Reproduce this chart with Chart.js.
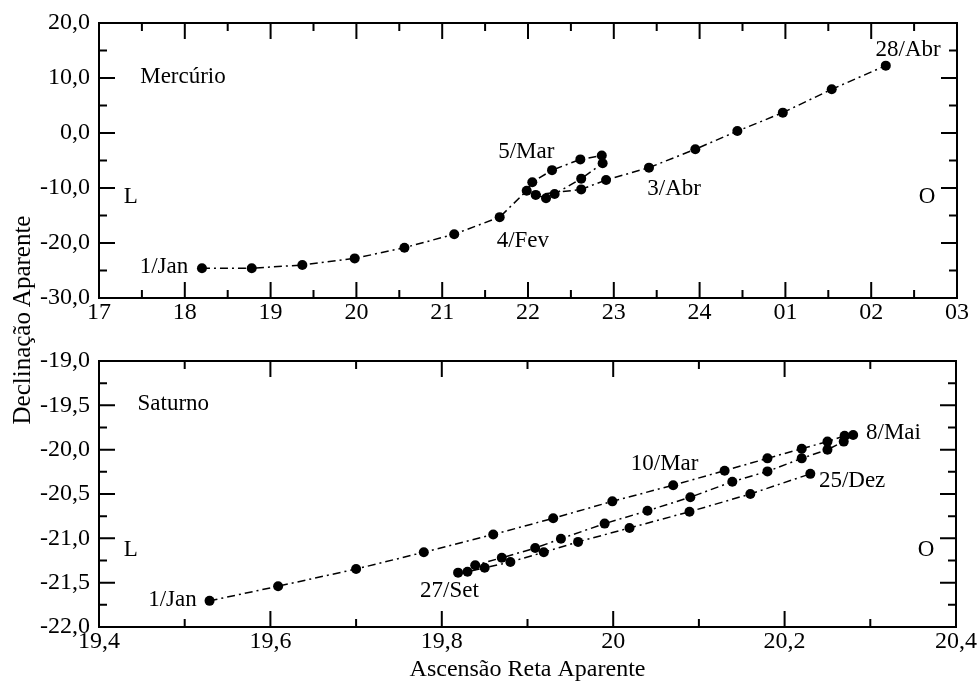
<!DOCTYPE html>
<html lang="pt">
<head>
<meta charset="utf-8">
<title>Mercúrio e Saturno</title>
<script src="https://cdn.jsdelivr.net/npm/chart.js@4.4.1/dist/chart.umd.min.js"></script>
<style>
  body { margin: 0; background: #fff; }
  #wrap { position: relative; width: 980px; height: 687px; background: #fff; font-family: "Liberation Serif", "Times New Roman", serif; }
  #top { position: absolute; left: 0; top: 0; }
  #bottom { position: absolute; left: 0; top: 340px; }
  #ytitle {
    position: absolute; left: -128px; top: 308px; width: 300px; height: 24px;
    line-height: 24px; text-align: center; font-size: 25px; color: #000;
    transform: rotate(-90deg); white-space: nowrap;
  }
</style>
</head>
<body>
<div id="wrap">
  <canvas id="top" width="980" height="340"></canvas>
  <canvas id="bottom" width="980" height="347"></canvas>
  <div id="ytitle">Declinação Aparente</div>
</div>
<script>
// Mercúrio: ascensão reta em horas (25 = 01h, 26 = 02h) e declinação em graus
const mercuryRA = [18.20, 18.78, 19.37, 19.98, 20.56, 21.14, 21.67,
  21.985, 22.05, 22.28, 22.61, 22.86, 22.87, 22.62, 22.31, 22.21, 22.09,
  22.62, 22.91, 23.41, 23.95, 24.44, 24.97, 25.54, 26.17];
const mercuryDec = [-24.6, -24.6, -24.0, -22.8, -20.85, -18.4, -15.3,
  -10.5, -8.95, -6.75, -4.8, -4.1, -5.5, -8.3, -11.1, -11.85, -11.25,
  -10.25, -8.55, -6.3, -2.95, 0.35, 3.7, 7.95, 12.25];
const mercuryXLabels = ['17', '18', '19', '20', '21', '22', '23', '24', '01', '02', '03'];

// Saturno: ascensão reta em horas e declinação em graus
const saturnRA = [19.529, 19.609, 19.700, 19.779, 19.860, 19.930, 19.999,
  20.070, 20.130, 20.180, 20.220, 20.250, 20.270, 20.280,
  20.269, 20.250, 20.220, 20.180, 20.139, 20.090, 20.040, 19.990, 19.939,
  19.909, 19.870, 19.839, 19.819,
  19.830, 19.850, 19.880, 19.919, 19.959, 20.019, 20.089, 20.160, 20.230];
const saturnDec = [-21.705, -21.540, -21.346, -21.157, -20.957, -20.774, -20.583,
  -20.401, -20.237, -20.098, -19.989, -19.909, -19.843, -19.835,
  -19.909, -20.000, -20.098, -20.245, -20.361, -20.536, -20.689, -20.834, -21.004,
  -21.110, -21.219, -21.303, -21.387,
  -21.376, -21.332, -21.267, -21.157, -21.040, -20.883, -20.700, -20.500, -20.273];
const saturnXLabels = ['19,4', '19,6', '19,8', '20', '20,2', '20,4'];

// textos dentro dos gráficos (coordenadas em unidades dos eixos)
const mercuryNotes = [
  { text: 'Mercúrio', x: 17.48, y: 10.2, align: 'left' },
  { text: 'L', x: 17.37, y: -11.6, align: 'center' },
  { text: 'O', x: 26.65, y: -11.6, align: 'center' },
  { text: '1/Jan', x: 18.04, y: -24.4, align: 'right' },
  { text: '4/Fev', x: 21.94, y: -19.6, align: 'center' },
  { text: '5/Mar', x: 21.98, y: -3.45, align: 'center' },
  { text: '3/Abr', x: 23.39, y: -10.2, align: 'left' },
  { text: '28/Abr', x: 26.43, y: 15.1, align: 'center' }
];
const saturnNotes = [
  { text: 'Saturno', x: 19.445, y: -19.49, align: 'left' },
  { text: 'L', x: 19.437, y: -21.135, align: 'center' },
  { text: 'O', x: 20.365, y: -21.135, align: 'center' },
  { text: '1/Jan', x: 19.514, y: -21.69, align: 'right' },
  { text: '27/Set', x: 19.809, y: -21.595, align: 'center' },
  { text: '10/Mar', x: 20.06, y: -20.16, align: 'center' },
  { text: '8/Mai', x: 20.295, y: -19.81, align: 'left' },
  { text: '25/Dez', x: 20.24, y: -20.35, align: 'left' }
];

const FONT = '"Liberation Serif", "Times New Roman", serif';

// moldura com marcas para dentro (principais e secundárias)
const frameTicks = {
  id: 'frameTicks',
  afterDraw(chart) {
    const { ctx, chartArea: a, scales: { x, y } } = chart;
    const major = 16, minor = 8;
    ctx.save();
    ctx.strokeStyle = '#000';
    ctx.lineWidth = 2;
    ctx.strokeRect(a.left, a.top, a.right - a.left, a.bottom - a.top);
    ctx.beginPath();
    const xv = x.ticks.map(t => t.value);
    xv.forEach((v, i) => {
      const p = x.getPixelForValue(v);
      ctx.moveTo(p, a.bottom); ctx.lineTo(p, a.bottom - major);
      ctx.moveTo(p, a.top); ctx.lineTo(p, a.top + major);
      if (i < xv.length - 1) {
        const m = x.getPixelForValue((v + xv[i + 1]) / 2);
        ctx.moveTo(m, a.bottom); ctx.lineTo(m, a.bottom - minor);
        ctx.moveTo(m, a.top); ctx.lineTo(m, a.top + minor);
      }
    });
    const yv = y.ticks.map(t => t.value);
    yv.forEach((v, i) => {
      const p = y.getPixelForValue(v);
      ctx.moveTo(a.left, p); ctx.lineTo(a.left + major, p);
      ctx.moveTo(a.right, p); ctx.lineTo(a.right - major, p);
      if (i < yv.length - 1) {
        const m = y.getPixelForValue((v + yv[i + 1]) / 2);
        ctx.moveTo(a.left, m); ctx.lineTo(a.left + minor, m);
        ctx.moveTo(a.right, m); ctx.lineTo(a.right - minor, m);
      }
    });
    ctx.stroke();
    ctx.restore();
  }
};

function notesPlugin(items) {
  return {
    id: 'notes',
    afterDraw(chart) {
      const { ctx, scales: { x, y } } = chart;
      ctx.save();
      ctx.fillStyle = '#000';
      ctx.font = '23px ' + FONT;
      ctx.textBaseline = 'middle';
      items.forEach(n => {
        ctx.textAlign = n.align;
        ctx.fillText(n.text, x.getPixelForValue(n.x), y.getPixelForValue(n.y));
      });
      ctx.restore();
    }
  };
}

const decFormat = v => v.toFixed(1).replace('.', ',');

function makeChart(id, cfg) {
  const points = cfg.ra.map((r, i) => ({ x: r, y: cfg.dec[i] }));
  const xScale = {
    type: 'linear', min: cfg.xMin, max: cfg.xMax,
    grid: { display: false, drawTicks: false },
    border: { display: false },
    ticks: {
      stepSize: cfg.xStep, autoSkip: false, maxRotation: 0, padding: 3, color: '#000',
      font: { family: FONT, size: 24, lineHeight: 1 },
      callback: (v, i) => cfg.xLabels[i]
    },
    afterFit(s) { s.height = cfg.xHeight; }
  };
  if (cfg.xTitle) {
    xScale.title = {
      display: true, text: cfg.xTitle, color: '#000',
      font: { family: FONT, size: 24 }, padding: { top: 0, bottom: 3 }
    };
  }
  return new Chart(document.getElementById(id), {
    type: 'scatter',
    data: {
      datasets: [{
        data: points,
        showLine: true,
        borderColor: '#000',
        borderWidth: 1.5,
        borderDash: [8, 4, 2, 4],
        tension: 0,
        pointRadius: 5,
        pointBorderWidth: 0,
        pointBackgroundColor: '#000',
        backgroundColor: '#000'
      }]
    },
    options: {
      responsive: false,
      animation: false,
      layout: { padding: { top: cfg.padTop, right: 23, bottom: 0, left: 0 } },
      plugins: { legend: { display: false }, tooltip: { enabled: false } },
      scales: {
        x: xScale,
        y: {
          type: 'linear', min: cfg.yMin, max: cfg.yMax,
          grid: { display: false, drawTicks: false },
          border: { display: false },
          ticks: {
            stepSize: cfg.yStep, padding: 9, color: '#000',
            font: { family: FONT, size: 24, lineHeight: 1 },
            callback: decFormat
          },
          afterFit(s) { s.width = 99; }
        }
      }
    },
    plugins: [frameTicks, notesPlugin(cfg.notes)]
  });
}

makeChart('top', {
  ra: mercuryRA, dec: mercuryDec, notes: mercuryNotes, xLabels: mercuryXLabels,
  xMin: 17, xMax: 27, xStep: 1, yMin: -30, yMax: 20, yStep: 10,
  padTop: 23, xHeight: 42
});

makeChart('bottom', {
  ra: saturnRA, dec: saturnDec, notes: saturnNotes, xLabels: saturnXLabels,
  xMin: 19.4, xMax: 20.4, xStep: 0.2, yMin: -22, yMax: -19, yStep: 0.5,
  padTop: 13, xHeight: 60, xTitle: 'Ascensão Reta Aparente'
});
</script>
</body>
</html>
